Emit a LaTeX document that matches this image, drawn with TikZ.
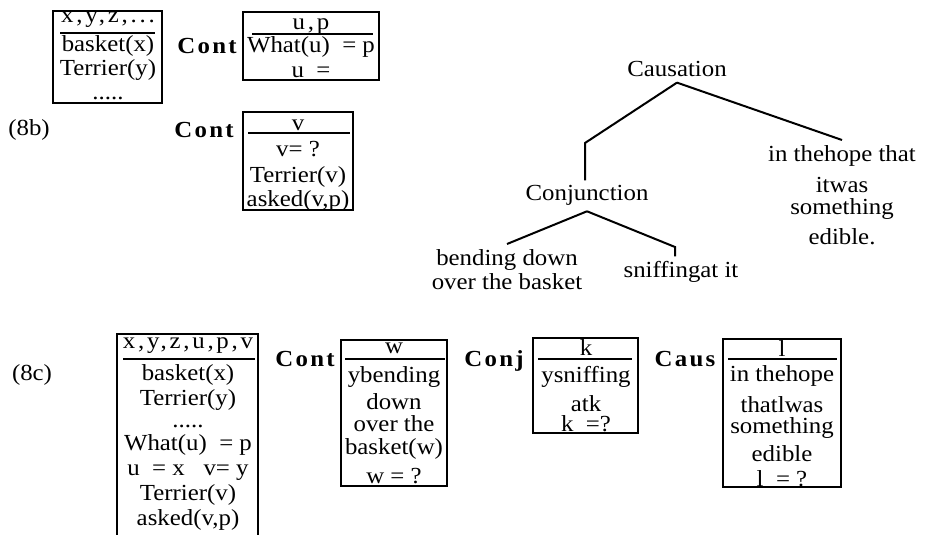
\documentclass[tikz,border=0pt]{standalone}
\usepackage{fontspec}
\setmainfont{Liberation Serif}[FakeStretch=1.08]
\usetikzlibrary{positioning}
\newcommand{\drsfont}{\fontsize{11.5}{12}\selectfont}
\tikzset{
  drs/.style={line width=1.2pt},
  bar/.style={line width=1pt},
  ln/.style={anchor=base, inner sep=0pt},
  lbl/.style={inner sep=2.5pt, align=center},
  rel/.style={anchor=base, inner sep=0pt, font=\drsfont\bfseries\addfontfeatures{LetterSpace=10}},
}
\newcommand{\spc}[1]{{\addfontfeatures{LetterSpace=12}#1}}
\newcommand{\dotsthree}{...}
\newcommand{\dotsfive}{.....}
\begin{document}
\begin{tikzpicture}[x=0.5pt, y=-0.5pt, font=\drsfont]
\useasboundingbox (0,0) rectangle (928,535);

% (8b)
\node[ln] (lab8b) at (29,136) {(8b)};
\draw[drs] (53,11) rectangle (162,103);
\draw[bar] (60,33) -- (155,33);
\foreach \y/\t [count=\i] in {23/{\spc{x,y,z,\dotsthree}}, 52/basket(x), 76/Terrier(y), 100/\dotsfive}
  \node[ln] (a\i) at (108,\y) {\t};

\node[rel] (cont1) at (207,54) {Cont};
\draw[drs] (243,12) rectangle (379,80);
\draw[bar] (252,34) -- (373,34);
\foreach \y/\t [count=\i] in {30/{\spc{u,p}}, 53/What(u)~ = p, 78/u~ =}
  \node[ln] (b\i) at (311,\y) {\t};

\node[rel] (cont2) at (204,138) {Cont};
\draw[drs] (243,112) rectangle (353,210);
\draw[bar] (248,133) -- (350,133);
\foreach \y/\t [count=\i] in {131/v, 157/v= ?, 183/Terrier(v), 207/{asked(v,p)}}
  \node[ln] (c\i) at (298,\y) {\t};

% tree
\node[lbl, anchor=base] (caus) at (677,77) {Causation};
\node[lbl, anchor=base] (conj) at (587,201) {Conjunction};
\node[lbl, anchor=north] (bend) at (507,244) {bending down\\over the basket};
\node[lbl, anchor=base] (sniff) at (681,278) {sniffingat it};
\node[lbl, anchor=north] (hope) at (842,140) {in thehope that\\[3.5pt]itwas\\[-1pt]something\\[3pt]edible.};
\coordinate (ck) at (585,143);
\coordinate (sk) at (675,247);
\draw[bar] (caus.south) -- (ck) -- (ck |- conj.north);
\draw[bar] (caus.south) -- (hope.north);
\draw[bar] (conj.south) -- (bend.north);
\draw[bar] (conj.south) -- (sk) -- (sk |- sniff.north);

% (8c)
\node[ln] (lab8c) at (32,380) {(8c)};
\draw[drs] (117,535) -- (117,334) -- (258,334) -- (258,535);
\draw[bar] (123,359) -- (255,359);
\foreach \y/\t [count=\i] in {349/{\spc{x,y,z,u,p,v}}, 380/basket(x), 405/Terrier(y), 428/\dotsfive, 451/What(u)~ = p, 475/u~ = x~~ v= y, 501/Terrier(v), 525/{asked(v,p)}}
  \node[ln] (d\i) at (188,\y) {\t};

\node[rel] (cont3) at (305,366) {Cont};
\draw[drs] (341,340) rectangle (447,486);
\draw[bar] (345,359) -- (445,359);
\foreach \y/\t [count=\i] in {353/w, 382/ybending, 409/down, 431/over the, 454/basket(w), 483/w = ?}
  \node[ln] (e\i) at (394,\y) {\t};

\node[rel] (relconj) at (494,366) {Conj};
\draw[drs] (533,338) rectangle (638,433);
\draw[bar] (538,359) -- (632,359);
\foreach \y/\t [count=\i] in {356/k, 382/ysniffing, 411/atk, 431/k~ =?}
  \node[ln] (f\i) at (586,\y) {\t};

\node[rel] (relcaus) at (685,366) {Caus};
\draw[drs] (723,339) rectangle (841,487);
\draw[bar] (728,359) -- (837,359);
\foreach \y/\t [count=\i] in {357/l, 381/in thehope, 413/thatlwas, 433/something, 461/edible, 487/l~ = ?}
  \node[ln] (g\i) at (782,\y) {\t};
\end{tikzpicture}
\end{document}
